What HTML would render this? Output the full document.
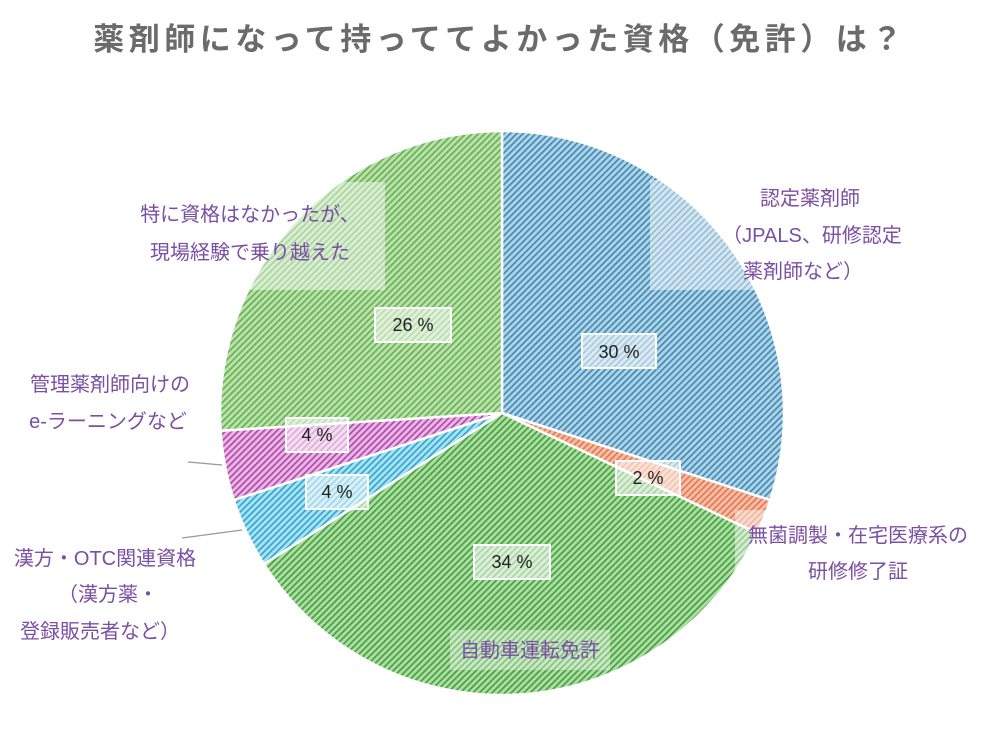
<!DOCTYPE html>
<html><head><meta charset="utf-8"><style>
html,body{margin:0;padding:0;background:#fff;}
body{width:1000px;height:750px;overflow:hidden;font-family:"Liberation Sans","Noto Sans CJK JP",sans-serif;}
</style></head><body>
<svg width="1000" height="750" viewBox="0 0 1000 750" xmlns="http://www.w3.org/2000/svg" font-family="'Liberation Sans','Noto Sans CJK JP',sans-serif">
<defs>
<pattern id="pB" width="4.5" height="4.5" patternUnits="userSpaceOnUse" patternTransform="rotate(45)"><rect width="4.5" height="4.5" fill="#a9d6ee"/><rect width="1.7" height="4.5" fill="#4d86a8"/></pattern>
<pattern id="pO" width="4.5" height="4.5" patternUnits="userSpaceOnUse" patternTransform="rotate(45)"><rect width="4.5" height="4.5" fill="#f8bda6"/><rect width="1.7" height="4.5" fill="#e07a55"/></pattern>
<pattern id="pG" width="4.5" height="4.5" patternUnits="userSpaceOnUse" patternTransform="rotate(45)"><rect width="4.5" height="4.5" fill="#a8e29e"/><rect width="1.7" height="4.5" fill="#4f9a4a"/></pattern>
<pattern id="pL" width="4.5" height="4.5" patternUnits="userSpaceOnUse" patternTransform="rotate(45)"><rect width="4.5" height="4.5" fill="#a6e4f6"/><rect width="1.7" height="4.5" fill="#3aa3c8"/></pattern>
<pattern id="pP" width="4.5" height="4.5" patternUnits="userSpaceOnUse" patternTransform="rotate(45)"><rect width="4.5" height="4.5" fill="#f0b4ec"/><rect width="1.7" height="4.5" fill="#a8509f"/></pattern>
<pattern id="pG2" width="4.5" height="4.5" patternUnits="userSpaceOnUse" patternTransform="rotate(45)"><rect width="4.5" height="4.5" fill="#b8e4a8"/><rect width="1.7" height="4.5" fill="#6cae5c"/></pattern>
</defs>
<text x="500" y="50" text-anchor="middle" font-size="31" font-weight="bold" fill="#6b6b6b" letter-spacing="4.5">薬剤師になって持っててよかった資格（免許）は？</text>
<g stroke="#fff" stroke-width="2.5" stroke-linejoin="round">
<path d="M502,413 L502,131 A282,282 0 0 1 770.2,500.1 Z" fill="url(#pB)"/>
<path d="M502,413 L770.2,500.1 A282,282 0 0 1 757.2,533.1 Z" fill="url(#pO)"/>
<path d="M502,413 L757.2,533.1 A282,282 0 0 1 263.9,564.1 Z" fill="url(#pG)"/>
<path d="M502,413 L263.9,564.1 A282,282 0 0 1 233.8,500.1 Z" fill="url(#pL)"/>
<path d="M502,413 L233.8,500.1 A282,282 0 0 1 220.6,430.7 Z" fill="url(#pP)"/>
<path d="M502,413 L220.6,430.7 A282,282 0 0 1 502,131 Z" fill="url(#pG2)"/>
</g>
<rect x="650" y="180" width="130" height="110" fill="#fff" opacity="0.45"/>
<rect x="250" y="182" width="135" height="108" fill="#fff" opacity="0.45"/>
<rect x="735" y="510" width="55" height="60" fill="#fff" opacity="0.45"/>
<rect x="450" y="630" width="160" height="40" fill="#fff" opacity="0.35"/>
<g fill="#fff" fill-opacity="0.55" stroke="#fff" stroke-width="2">
<rect x="582" y="334" width="74" height="34"/>
<rect x="616" y="461" width="64" height="34"/>
<rect x="474" y="545" width="76" height="34"/>
<rect x="306" y="475" width="62" height="34"/>
<rect x="286" y="418" width="62" height="34"/>
<rect x="375" y="308" width="76" height="34"/>
</g>
<g font-size="18" fill="#222" text-anchor="middle">
<text x="619" y="358">30 %</text>
<text x="648" y="484">2 %</text>
<text x="512" y="568">34 %</text>
<text x="337" y="498">4 %</text>
<text x="317" y="441">4 %</text>
<text x="413" y="331">26 %</text>
</g>
<g stroke="#999" stroke-width="1.2">
<line x1="188" y1="462" x2="222" y2="465"/>
<line x1="182" y1="538" x2="242" y2="530"/>
</g>
<g font-size="20" fill="#7b4fa3" text-anchor="middle">
<text x="810" y="205">認定薬剤師</text>
<text x="812" y="242">（JPALS、研修認定</text>
<text x="803" y="278">薬剤師など）</text>
<text x="858" y="542">無菌調製・在宅医療系の</text>
<text x="858" y="578">研修修了証</text>
<text x="530" y="657">自動車運転免許</text>
<text x="250" y="221">特に資格はなかったが、</text>
<text x="250" y="259">現場経験で乗り越えた</text>
<text x="110" y="391">管理薬剤師向けの</text>
<text x="108" y="428">e-ラーニングなど</text>
<text x="105" y="565">漢方・OTC関連資格</text>
<text x="108" y="601">（漢方薬・</text>
<text x="100" y="638">登録販売者など）</text>
</g>
</svg>
</body></html>
